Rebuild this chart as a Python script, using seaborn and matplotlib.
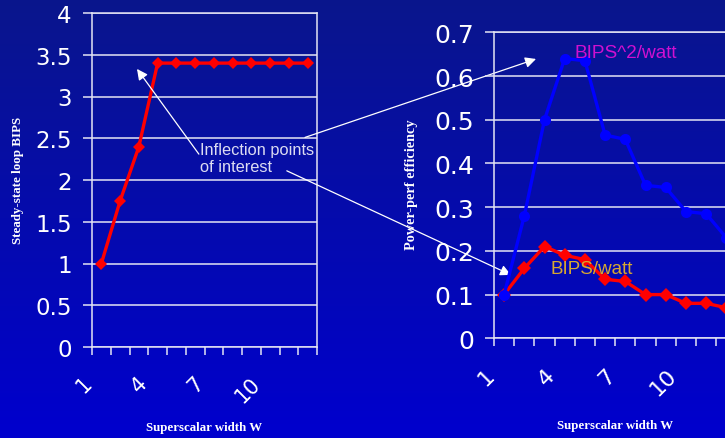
import numpy as np
import pandas as pd
import matplotlib
matplotlib.use("Agg")
import matplotlib.pyplot as plt
from matplotlib.transforms import ScaledTranslation
import seaborn as sns

# Superscalar width sweep
widths = [1, 2, 3, 4, 5, 6, 7, 8, 9, 10, 11, 12]
bips = [1.0, 1.75, 2.4, 3.4, 3.4, 3.4, 3.4, 3.4, 3.4, 3.4, 3.4, 3.4]
bips_per_watt = [0.10, 0.16, 0.21, 0.19, 0.18, 0.135, 0.13, 0.10, 0.10, 0.08, 0.08, 0.07]
bips2_per_watt = [0.10, 0.28, 0.50, 0.64, 0.635, 0.465, 0.455, 0.35, 0.345, 0.29, 0.285, 0.23]
xtick_labels = [1, 4, 7, 10]

sns.set_theme(style="white")
plt.rcParams["font.family"] = ["DejaVu Sans"]

W, H, DPI = 725, 439, 100
fig = plt.figure(figsize=(W / DPI, H / DPI), dpi=DPI)

# vertical blue gradient background
bg = fig.add_axes([0, 0, 1, 1], zorder=-10)
top = np.array([10, 22, 140]) / 255
bot = np.array([0, 0, 206]) / 255
t = np.linspace(0, 1, 256)[:, None]
grad = (top[None, :] * (1 - t) + bot[None, :] * t)[:, None, :]
bg.imshow(grad, aspect="auto", extent=[0, 1, 0, 1])
bg.set_axis_off()


def px_box(x0, x1, ytop, ybot):
    return [x0 / W, 1 - ybot / H, (x1 - x0) / W, (ybot - ytop) / H]


ax1 = fig.add_axes(px_box(92, 317, 14, 348))
ax2 = fig.add_axes(px_box(494, 494 + 12 * 20.2, 33.3, 339.3))

GRID = "#e4e4f4"
serif = ["Liberation Serif", "DejaVu Serif"]
arial = ["Liberation Sans", "DejaVu Sans"]


def style_axes(ax, ymax, ystep, ysize, xsize, xpad):
    ax.set_facecolor("none")
    ax.set_xlim(0.5, 12.5)
    ax.set_ylim(0, ymax)
    ax.set_yticks(np.round(np.arange(0, ymax + ystep / 2, ystep), 2))
    ax.yaxis.grid(True, color=GRID, lw=1.1)
    ax.xaxis.grid(False)
    for s in ax.spines.values():
        s.set_color(GRID)
        s.set_linewidth(1.1)
    ax.set_xticks(xtick_labels)
    ax.set_xticks(np.arange(0.5, 13, 1), minor=True)
    ax.tick_params(axis="x", which="major", length=0, pad=xpad,
                   labelsize=xsize, colors="white")
    ax.tick_params(axis="x", which="minor", length=6, width=1.1,
                   color=GRID, direction="out", bottom=True)
    ax.tick_params(axis="y", which="major", length=6.5, width=1.1,
                   color=GRID, direction="out", left=True, pad=8,
                   labelsize=ysize, labelcolor="white")
    ax.yaxis.set_major_formatter(matplotlib.ticker.FuncFormatter(
        lambda v, p: f"{v:g}"))
    shift = ScaledTranslation(-13 / DPI, 0, fig.dpi_scale_trans)
    for lab in ax.get_xticklabels():
        lab.set_rotation(45)
        lab.set_rotation_mode("anchor")
        lab.set_ha("right")
        lab.set_va("center")
        lab.set_transform(lab.get_transform() + shift)


# Left: steady-state BIPS
df1 = pd.DataFrame({"W": widths, "BIPS": bips})
sns.lineplot(data=df1, x="W", y="BIPS", ax=ax1, color="#ff0000", lw=2.4,
             marker="D", markersize=6.2, markeredgewidth=0,
             markerfacecolor="#ff0000")
style_axes(ax1, 4, 0.5, 16.5, 15, 23.5)
ax1.set_xlabel("")
ax1.set_ylabel("")
fig.text(204.5 / W, 1 - 428 / H, "Superscalar width W", color="white",
         family=serif, weight="bold", fontsize=9.3, ha="center", va="center")
fig.text(18 / W, 1 - 180 / H, "Steady-state loop BIPS", color="white",
         family=serif, weight="bold", fontsize=9.4, ha="center", va="center",
         rotation=90)

# Right: power-performance efficiency
df2 = pd.DataFrame({"W": widths, "BIPS/watt": bips_per_watt,
                    "BIPS^2/watt": bips2_per_watt})
sns.lineplot(data=df2, x="W", y="BIPS/watt", ax=ax2, color="#ff0000", lw=2.4,
             marker="D", markersize=6.8, markeredgewidth=0,
             markerfacecolor="#ff0000")
sns.lineplot(data=df2, x="W", y="BIPS^2/watt", ax=ax2, color="#0000ff",
             lw=2.4, marker="o", markersize=8, markeredgewidth=0,
             markerfacecolor="#0000ff")
style_axes(ax2, 0.7, 0.1, 18, 16, 24)
ax2.set_xlabel("")
ax2.set_ylabel("")
ax2.text(575 / W, 1 - 53 / H, "BIPS^2/watt", transform=fig.transFigure,
         color="#d010d0", family=arial, fontsize=13.7, ha="left",
         va="center", zorder=5)
ax2.text(551 / W, 1 - 269 / H, "BIPS/watt", transform=fig.transFigure,
         color="#d8a830", family=arial, fontsize=13.5, ha="left",
         va="center", zorder=5)
fig.text(615 / W, 1 - 426 / H, "Superscalar width W", color="white",
         family=serif, weight="bold", fontsize=9.3, ha="center", va="center")
fig.text(412 / W, 1 - 185 / H, "Power-perf efficiency", color="white",
         family=serif, weight="bold", fontsize=10.3, ha="center", va="center",
         rotation=90)

# Callout with arrows into both panels
fig.text(200 / W, 1 - 159 / H, "Inflection points\nof interest",
         color="#dcdcf2", family=arial, fontsize=11.8, ha="left",
         va="center", linespacing=1.1)
arrow = dict(arrowstyle="-|>", color="white", lw=0.9, mutation_scale=16,
             shrinkA=0, shrinkB=0)
ax1.annotate("", xy=(2.9, 3.33), xycoords=ax1.transData,
             xytext=(6.2, 2.31), textcoords=ax1.transData, arrowprops=arrow)
ax1.annotate("", xy=(2.58, 0.639), xycoords=ax2.transData,
             xytext=(11.86, 2.51), textcoords=ax1.transData,
             arrowprops=arrow, annotation_clip=False)
ax1.annotate("", xy=(1.34, 0.145), xycoords=ax2.transData,
             xytext=(10.89, 2.11), textcoords=ax1.transData,
             arrowprops=arrow, annotation_clip=False)

fig.savefig("out.png", dpi=DPI)
